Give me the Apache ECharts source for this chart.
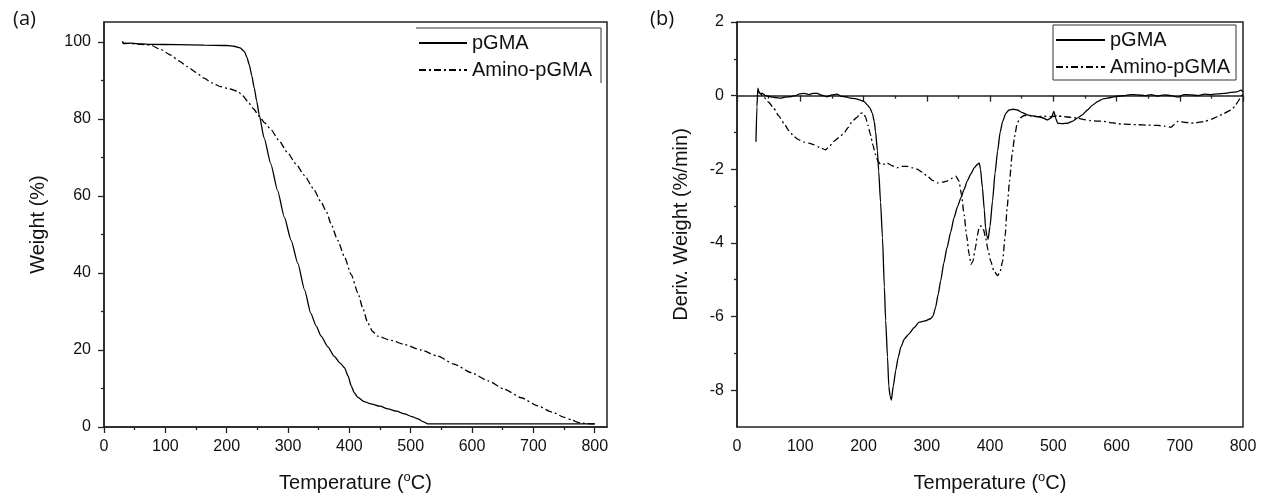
<!DOCTYPE html>
<html>
<head>
<meta charset="utf-8">
<script src="https://cdn.jsdelivr.net/npm/echarts@6/dist/echarts.min.js"></script>
<style>html,body{margin:0;padding:0;background:#fff}#c{width:1266px;height:498px}</style>
</head>
<body>
<div id="c"></div>
<script>
// ---------- DATA ----------
const seriesNames = ['pGMA', 'Amino-pGMA'];
const xMajorTicks = [0, 100, 200, 300, 400, 500, 600, 700, 800];
const xMinorTicks = [50, 150, 250, 350, 450, 550, 650, 750];
const tgaYMajor = [0, 20, 40, 60, 80, 100];
const tgaYMinor = [10, 30, 50, 70, 90];
const dtgYMajor = [-8, -6, -4, -2, 0, 2];
const dtgYMinor = [-7, -5, -3, -1, 1];

// (a) TGA: [temperature °C, weight %]
const tgaPGMA = [
  [30,100.2],[32,99.6],[45,99.7],[60,99.5],[76,99.4],[120,99.3],[163,99.2],[200,99.1],[212,98.9],[222,98.5],
  [229,97.5],[233,96],[237,94.0],[241,91.2],[245,88.0],[249,84.6],[253,81.1],[261,75.1],[272,68.3],
  [283,61.4],[294,54.5],[305,48.5],[316,42.5],[327,35.6],[337,29.6],[346,26.2],[354,23.6],[365,20.8],
  [375,18.4],[385,16.6],[392,15.4],[398,13.2],[403,10.7],[408,8.9],[414,7.7],[424,6.6],[435,6.0],
  [450,5.4],[463,4.7],[477,4.1],[490,3.4],[502,2.7],[512,2.1],[520,1.4],[528,0.8],[600,0.8],[700,0.8],[800,0.8]
];
const tgaAmino = [
  [30,99.8],[45,99.6],[60,99.4],[76,99.2],[92,98.1],[109,96.6],[122,95.1],[136,93.6],[150,92.1],
  [163,90.6],[176,89.4],[190,88.4],[205,87.8],[218,87.2],[226,86.1],[234,84.6],[244,82.6],[253,80.7],
  [262,79.0],[272,77.3],[285,74.5],[299,71.3],[313,68.3],[327,65.3],[341,62.0],[354,58.4],[363,55.8],
  [370,52.8],[381,48.5],[392,44.2],[403,39.6],[414,34.8],[422,30.8],[430,27.0],[438,24.8],[446,23.6],
  [468,22.5],[490,21.4],[517,20.0],[544,18.4],[571,16.3],[599,14.1],[626,12.0],[653,9.8],[680,7.6],
  [707,5.5],[730,3.9],[751,2.5],[763,1.8],[773,1.2],[787,0.9],[800,0.8]
];

// (b) DTG: [temperature °C, deriv. weight %/min]
const dtgPGMA = [
  [30,-1.25],[31.5,-0.3],[33,0.2],[35,0.08],[37,0.06],[40,0.06],[45,0.0],[53,-0.03],[60,-0.05],[69,-0.07],
  [76,-0.04],[84,-0.03],[92,0.0],[99,0.05],[106,0.06],[114,0.03],[120,0.06],[127,0.06],[134,0.01],
  [142,-0.03],[150,0.02],[158,0.04],[165,-0.02],[172,-0.03],[179,-0.07],[187,-0.08],[195,-0.12],
  [201,-0.16],[206,-0.25],[210,-0.33],[214,-0.48],[217,-0.7],[219,-0.97],[222,-1.5],[224,-2.05],
  [227,-2.9],[230,-3.86],[233,-5.2],[235,-6.1],[238,-7.1],[240,-7.9],[242,-8.15],[244,-8.27],
  [247,-7.9],[251,-7.46],[255,-7.1],[259,-6.83],[265,-6.6],[272,-6.47],[280,-6.3],[288,-6.15],
  [297,-6.12],[306,-6.06],[310,-5.98],[314,-5.75],[318,-5.4],[322,-5.03],[327,-4.55],[332,-4.13],
  [338,-3.7],[343,-3.32],[349,-3.0],[354,-2.77],[359,-2.55],[364,-2.32],[370,-2.12],[375,-1.96],
  [380,-1.87],[383,-1.83],[385,-2.0],[388,-2.5],[391,-3.1],[393,-3.59],[395,-3.8],[397,-3.9],
  [400,-3.55],[404,-2.86],[408,-2.1],[412,-1.51],[416,-1.0],[420,-0.7],[425,-0.48],[430,-0.39],
  [437,-0.37],[443,-0.39],[451,-0.46],[459,-0.52],[467,-0.55],[475,-0.57],[483,-0.6],[491,-0.66],
  [497,-0.6],[501,-0.43],[504,-0.62],[507,-0.75],[514,-0.76],[522,-0.75],[530,-0.7],[538,-0.61],
  [546,-0.52],[554,-0.39],[562,-0.26],[570,-0.16],[580,-0.08],[591,-0.05],[600,-0.02],[612,0.0],
  [622,0.03],[633,0.02],[645,0.0],[655,0.03],[665,-0.01],[676,0.02],[686,0.0],[697,-0.04],[707,0.03],
  [718,0.02],[729,0.0],[739,0.04],[750,0.03],[760,0.05],[771,0.06],[781,0.09],[790,0.1],[797,0.15],[800,0.1]
];
const dtgAmino = [
  [33,0.15],[37,0.05],[42,-0.03],[50,-0.18],[58,-0.34],[66,-0.55],[74,-0.75],[82,-0.95],[90,-1.11],
  [98,-1.2],[106,-1.26],[114,-1.29],[121,-1.33],[130,-1.4],[140,-1.47],[146,-1.38],[153,-1.24],
  [161,-1.14],[169,-1.02],[176,-0.86],[182,-0.7],[189,-0.6],[195,-0.48],[199,-0.47],[203,-0.57],
  [207,-0.8],[211,-1.06],[215,-1.35],[219,-1.6],[223,-1.78],[227,-1.87],[232,-1.86],[237,-1.83],
  [245,-1.9],[253,-1.96],[261,-1.92],[269,-1.92],[277,-1.96],[285,-2.0],[293,-2.08],[301,-2.19],
  [309,-2.3],[317,-2.37],[325,-2.35],[332,-2.32],[339,-2.25],[346,-2.19],[351,-2.32],[355,-2.7],
  [359,-3.23],[363,-3.8],[367,-4.31],[370,-4.58],[373,-4.5],[377,-4.13],[380,-3.8],[383,-3.56],
  [386,-3.54],[390,-3.65],[393,-3.86],[397,-4.2],[401,-4.49],[406,-4.75],[412,-4.89],[416,-4.78],
  [420,-4.49],[424,-3.8],[427,-3.05],[431,-2.3],[435,-1.6],[439,-1.1],[443,-0.75],[448,-0.6],
  [454,-0.54],[465,-0.55],[475,-0.57],[486,-0.56],[496,-0.57],[507,-0.55],[517,-0.57],[528,-0.59],
  [538,-0.61],[549,-0.65],[559,-0.68],[570,-0.69],[580,-0.7],[594,-0.74],[607,-0.77],[620,-0.78],
  [633,-0.79],[649,-0.8],[665,-0.81],[676,-0.83],[686,-0.86],[692,-0.78],[697,-0.7],[710,-0.73],
  [723,-0.75],[731,-0.72],[739,-0.7],[750,-0.64],[760,-0.57],[770,-0.48],[781,-0.39],[787,-0.3],
  [792,-0.16],[796,-0.05],[800,0.05]
];

// ---------- CHART ----------
const FONT = "'Liberation Sans', Arial, sans-serif";
const AX = '#222';
const LINE_W = 1.3;
const DASHDOT = [7, 3, 2, 3];

function nameRich() {
  return {
    a: { fontSize: 20, fontFamily: FONT, color: '#111', lineHeight: 24 },
    s: { fontSize: 13, fontFamily: FONT, color: '#111', lineHeight: 13, verticalAlign: 'top' }
  };
}

function xAxes(gridIndex, max) {
  return [
    {
      gridIndex, type: 'value', min: 0, max: max, position: 'bottom',
      name: '{a|Temperature (}{s|o}{a|C)}', nameLocation: 'middle', nameGap: 44,
      nameTextStyle: { rich: nameRich() },
      axisLine: { show: true, lineStyle: { color: AX, width: 1.5 } },
      axisTick: { show: true, inside: false, length: 6, customValues: xMajorTicks, lineStyle: { color: AX, width: 1.3 } },
      axisLabel: { show: true, customValues: xMajorTicks, margin: 12, fontSize: 16, fontFamily: FONT, color: '#111' },
      splitLine: { show: false }
    },
    {
      gridIndex, type: 'value', min: 0, max: max, position: 'bottom',
      axisLine: { show: false },
      axisTick: { show: true, inside: false, length: 3, customValues: xMinorTicks, lineStyle: { color: AX, width: 1.3 } },
      axisLabel: { show: false },
      splitLine: { show: false }
    }
  ];
}

function yAxes(gridIndex, min, max, major, minor, name, gap) {
  return [
    {
      gridIndex, type: 'value', min: min, max: max, position: 'left',
      name: name, nameLocation: 'middle', nameGap: gap,
      nameTextStyle: { fontSize: 20, fontFamily: FONT, color: '#111' },
      axisLine: { show: true, lineStyle: { color: AX, width: 1.5 } },
      axisTick: { show: true, inside: false, length: 6, customValues: major, lineStyle: { color: AX, width: 1.3 } },
      axisLabel: { show: true, customValues: major, margin: 13, fontSize: 16, fontFamily: FONT, color: '#111' },
      splitLine: { show: false }
    },
    {
      gridIndex, type: 'value', min: min, max: max, position: 'left',
      axisLine: { show: false },
      axisTick: { show: true, inside: false, length: 3, customValues: minor, lineStyle: { color: AX, width: 1.3 } },
      axisLabel: { show: false },
      splitLine: { show: false }
    }
  ];
}

function mkSeries(name, data, xi, yi, dashed) {
  return {
    name, type: 'line', data, xAxisIndex: xi, yAxisIndex: yi,
    symbol: 'none', smooth: 0.2, smoothMonotone: 'x',
    lineStyle: { color: '#000', width: LINE_W, type: dashed ? DASHDOT : 'solid' },
    itemStyle: { color: '#000' },
    animation: false
  };
}

const legendCommon = {
  data: seriesNames, orient: 'vertical',
  itemHeight: 14, itemGap: 7,
  itemStyle: { opacity: 0, borderWidth: 0 },
  textStyle: { fontSize: 20, fontFamily: FONT, color: '#111', lineHeight: 20 },
  selectedMode: false
};

const chart = echarts.init(document.getElementById('c'), null, { renderer: 'canvas' });
chart.setOption({
  backgroundColor: '#fff',
  animation: false,
  title: [
    { text: '(a)', left: 8, top: 4, textStyle: { fontFamily: "'Open Sans', 'Noto Sans', sans-serif", fontWeight: 'normal', fontSize: 20, color: '#111' } },
    { text: '(b)', left: 645, top: 4, textStyle: { fontFamily: "'Open Sans', 'Noto Sans', sans-serif", fontWeight: 'normal', fontSize: 20, color: '#111' } }
  ],
  grid: [
    { left: 104, top: 22, width: 503, height: 408, show: true, borderColor: AX, borderWidth: 1.5, backgroundColor: 'transparent' },
    { left: 737, top: 22, width: 506, height: 408, show: true, borderColor: AX, borderWidth: 1.5, backgroundColor: 'transparent' }
  ],
  xAxis: [].concat(xAxes(0, 820), xAxes(1, 800)),
  yAxis: [].concat(
    yAxes(0, 0, 105.2, tgaYMajor, tgaYMinor, 'Weight (%)', 56),
    yAxes(1, -9, 2, dtgYMajor, dtgYMinor, 'Deriv. Weight (%/min)', 46)
  ),
  legend: [
    Object.assign({}, legendCommon, { left: 418, top: 33, padding: 0, itemWidth: 48 }),
    Object.assign({}, legendCommon, {
      left: 1053, top: 25, padding: [5, 6, 3, 2], itemWidth: 49,
      borderColor: '#333', borderWidth: 1
    })
  ],
  graphic: [
    { type: 'polyline', shape: { points: [[416, 28], [601, 28], [601, 83]] }, style: { stroke: '#333', lineWidth: 1, fill: null }, silent: true }
  ],
  series: [
    mkSeries(seriesNames[0], tgaPGMA, 0, 0, false),
    mkSeries(seriesNames[1], tgaAmino, 0, 0, true),
    mkSeries(seriesNames[0], dtgPGMA, 2, 2, false),
    mkSeries(seriesNames[1], dtgAmino, 2, 2, true)
  ]
});
</script>
</body>
</html>
